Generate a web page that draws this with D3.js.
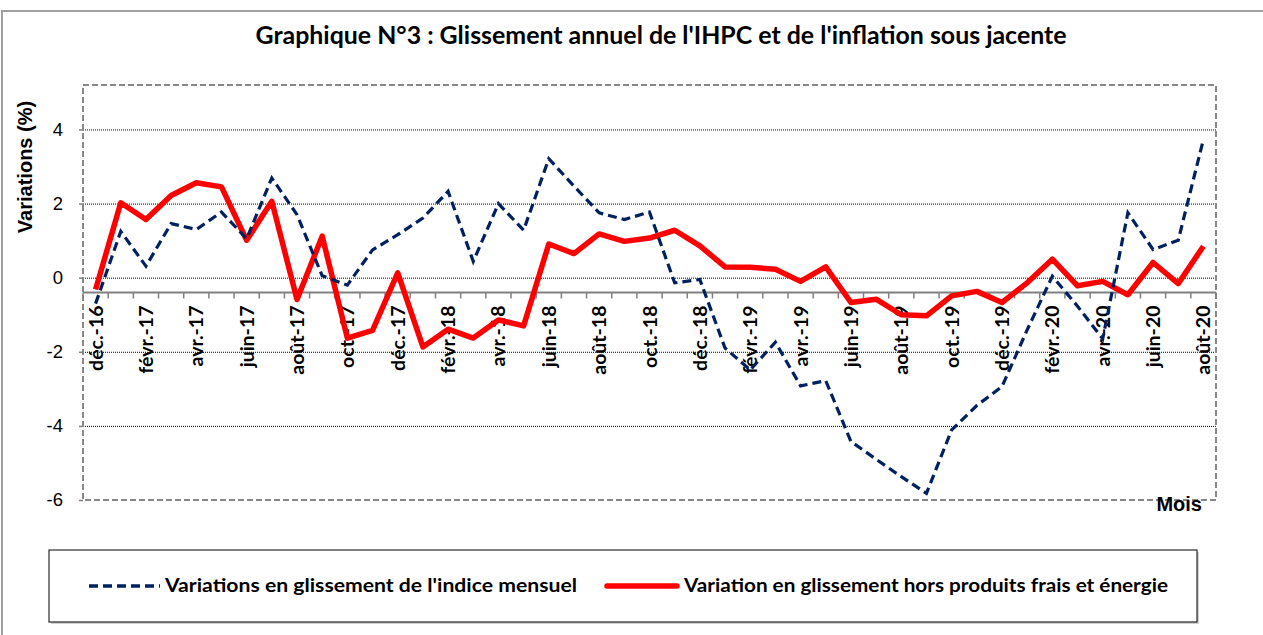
<!DOCTYPE html>
<html>
<head>
<meta charset="utf-8">
<script src="https://d3js.org/d3.v7.min.js"></script>
<style>
body { margin: 0; background: #fff; }
.grid line { stroke: #000; stroke-width: 1; stroke-dasharray: 1,1; }
.grid path { display: none; }
.yaxis text { font-family: "Liberation Sans", Arial, sans-serif; font-size: 18.5px; fill: #000; }
.yaxis line { stroke: #808080; stroke-width: 1.5; }
.yaxis path { display: none; }
.xaxis text { font-family: Lato, sans-serif; font-weight: bold; font-size: 19.5px; fill: #000; }
.xaxis path, .xaxis line { display: none; }
.legend text { font-family: Lato, sans-serif; font-weight: bold; font-size: 19px; fill: #000; }
</style>
</head>
<body>
<svg width="1263" height="635"></svg>
<script>

var months = ["déc.-16",
	"janv.-17","févr.-17","mars-17","avr.-17","mai-17","juin-17","juil.-17","août-17","sept.-17","oct.-17","nov.-17","déc.-17",
	"janv.-18","févr.-18","mars-18","avr.-18","mai-18","juin-18","juil.-18","août-18","sept.-18","oct.-18","nov.-18","déc.-18",
	"janv.-19","févr.-19","mars-19","avr.-19","mai-19","juin-19","juil.-19","août-19","sept.-19","oct.-19","nov.-19","déc.-19",
	"janv.-20","févr.-20","mars-20","avr.-20","mai-20","juin-20","juil.-20","août-20"];

// glissement annuel de l'indice mensuel (IHPC)
var ihpc = [-0.70,
	1.25, 0.31, 1.46, 1.30, 1.77, 1.05, 2.69, 1.70, 0.05, -0.20, 0.75, 1.16,
	1.61, 2.33, 0.44, 2.00, 1.28, 3.21, 2.47, 1.75, 1.57, 1.77, -0.14, -0.05,
	-1.90, -2.49, -1.74, -2.92, -2.78, -4.42, -4.90, -5.37, -5.82, -4.11, -3.45, -2.94,
	-1.41, 0.04, -0.77, -1.65, 1.75, 0.76, 1.01, 3.73];

// hors produits frais et énergie (inflation sous jacente)
var sousJacente = [-0.32,
	2.02, 1.57, 2.22, 2.56, 2.45, 1.01, 2.06, -0.59, 1.12, -1.63, -1.42, 0.13,
	-1.87, -1.39, -1.63, -1.14, -1.30, 0.91, 0.65, 1.18, 0.98, 1.07, 1.28, 0.86,
	0.29, 0.28, 0.23, -0.10, 0.29, -0.67, -0.58, -1.00, -1.03, -0.49, -0.37, -0.67,
	-0.14, 0.50, -0.22, -0.10, -0.46, 0.41, -0.16, 0.85];

var yTicks = [-6, -4, -2, 0, 2, 4];
var gridTicks = [-4, -2, 0, 2, 4];
var seriesNames = ["Variations en glissement de l'indice mensuel", "Variation en glissement hors produits frais et énergie"];

var svg = d3.select("svg");

var plotLeft = 83, plotRight = 1216, plotTop = 85, plotBottom = 500;
var axisCross = -0.4;

var x = d3.scaleBand().domain(months).range([plotLeft, plotRight]);
var y = d3.scaleLinear().domain([-6, 5.2]).range([plotBottom, plotTop]);

// outer chart border
svg.append("path")
	.attr("d", "M2,640 L2,11 L1270,11")
	.attr("fill", "none")
	.attr("stroke", "#a0a0a0")
	.attr("stroke-width", 2);

// title
svg.append("text")
	.attr("x", 661)
	.attr("y", 44)
	.attr("text-anchor", "middle")
	.attr("textLength", 811)
	.attr("lengthAdjust", "spacingAndGlyphs")
	.style("font-family", "Lato, sans-serif")
	.style("font-weight", "bold")
	.style("font-size", "24px")
	.text("Graphique N°3 : Glissement annuel de l'IHPC et de l'inflation sous jacente");

// gridlines
svg.append("g")
	.attr("class", "grid")
	.attr("transform", "translate(" + plotLeft + ",0)")
	.call(d3.axisLeft(y).tickValues(gridTicks).tickSize(-(plotRight - plotLeft)).tickFormat(""));

// plot border
svg.append("rect")
	.attr("x", plotLeft)
	.attr("y", plotTop)
	.attr("width", plotRight - plotLeft)
	.attr("height", plotBottom - plotTop)
	.attr("fill", "none")
	.attr("stroke", "#888")
	.attr("stroke-width", 2)
	.attr("stroke-dasharray", "6,3");

// y axis (plain hyphen for negatives, as in the original)
svg.append("g")
	.attr("class", "yaxis")
	.attr("transform", "translate(" + plotLeft + ",0)")
	.call(d3.axisLeft(y).tickValues(yTicks).tickSize(4).tickPadding(16)
		.tickFormat(function(d) { return String(d); }));

svg.append("text")
	.attr("transform", "translate(25,167) rotate(-90)")
	.attr("text-anchor", "middle")
	.attr("dy", "0.35em")
	.style("font-family", "'Liberation Sans', Arial, sans-serif")
	.style("font-weight", "bold")
	.style("font-size", "20px")
	.text("Variations (%)");

// x axis line crossing at -0.4, ticks between categories
var xAxisY = y(axisCross);
svg.append("line")
	.attr("x1", plotLeft).attr("x2", plotRight)
	.attr("y1", xAxisY).attr("y2", xAxisY)
	.attr("stroke", "#808080")
	.attr("stroke-width", 2);

svg.append("g")
	.selectAll("line")
	.data(d3.range(months.length + 1))
	.enter().append("line")
	.attr("x1", function(i) { return plotLeft + i * x.step(); })
	.attr("x2", function(i) { return plotLeft + i * x.step(); })
	.attr("y1", xAxisY)
	.attr("y2", xAxisY + 6)
	.attr("stroke", "#808080")
	.attr("stroke-width", 1.5);

var xAxis = svg.append("g")
	.attr("class", "xaxis")
	.attr("transform", "translate(0," + xAxisY + ")")
	.call(d3.axisBottom(x).tickSize(0).tickFormat(function(d, i) { return i % 2 == 0 ? d : ""; }));

xAxis.selectAll("text")
	.attr("text-anchor", "end")
	.attr("transform", "rotate(-90)")
	.attr("x", -13)
	.attr("y", 0)
	.attr("dy", "0.36em");

svg.append("text")
	.attr("x", 1202)
	.attr("y", 511)
	.attr("text-anchor", "end")
	.style("font-family", "'Liberation Sans', Arial, sans-serif")
	.style("font-weight", "bold")
	.style("font-size", "20px")
	.text("Mois");

// lines
var line = d3.line()
	.x(function(d, i) { return x(months[i]) + x.bandwidth() / 2; })
	.y(function(d) { return y(d); });

svg.append("path")
	.datum(sousJacente)
	.attr("d", line)
	.attr("fill", "none")
	.attr("stroke", "#ff0000")
	.attr("stroke-width", 5.5)
	.attr("stroke-linejoin", "round");

svg.append("path")
	.datum(ihpc)
	.attr("d", line)
	.attr("fill", "none")
	.attr("stroke", "#002060")
	.attr("stroke-width", 3.2)
	.attr("stroke-dasharray", "9,5");

// legend
var legend = svg.append("g").attr("class", "legend");

legend.append("rect")
	.attr("x", 51).attr("y", 552)
	.attr("width", 1148).attr("height", 72)
	.attr("fill", "#d0d0d0");

legend.append("rect")
	.attr("x", 49).attr("y", 550)
	.attr("width", 1148).attr("height", 72)
	.attr("fill", "#fff")
	.attr("stroke", "#000")
	.attr("stroke-width", 1);

legend.append("line")
	.attr("x1", 89).attr("x2", 160)
	.attr("y1", 586).attr("y2", 586)
	.attr("stroke", "#002060")
	.attr("stroke-width", 3.5)
	.attr("stroke-dasharray", "9,5");

legend.append("text")
	.attr("x", 165).attr("y", 592)
	.attr("textLength", 412)
	.attr("lengthAdjust", "spacingAndGlyphs")
	.text(seriesNames[0]);

legend.append("line")
	.attr("x1", 607).attr("x2", 677)
	.attr("y1", 586).attr("y2", 586)
	.attr("stroke", "#ff0000")
	.attr("stroke-width", 5.5)
	.attr("stroke-linecap", "round");

legend.append("text")
	.attr("x", 684).attr("y", 592)
	.attr("textLength", 484)
	.attr("lengthAdjust", "spacingAndGlyphs")
	.text(seriesNames[1]);

</script>
</body>
</html>
